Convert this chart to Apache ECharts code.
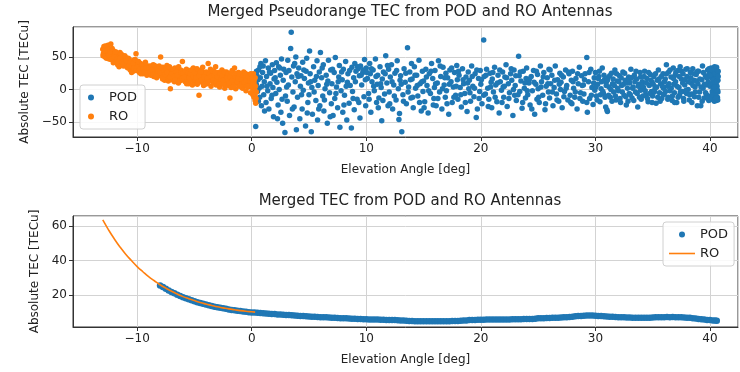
<!DOCTYPE html>
<html>
<head>
<meta charset="utf-8">
<script src="https://cdn.jsdelivr.net/npm/echarts@6/dist/echarts.min.js"></script>
<style>
  html, body { margin: 0; padding: 0; background: #fff; }
  #chart { width: 740px; height: 372px; }
</style>
</head>
<body>
<div id="chart"></div>
<script>
// top panel: pseudorange TEC, [elevation deg, TECu]
var roPseudo = [
  [-13.0,62],[-12.95,55],[-12.9,66],[-12.85,58],[-12.8,50],[-12.75,64],[-12.7,60],[-12.6,53],[-12.55,68],[-12.5,57],[-12.45,47],[-12.4,62],[-12.3,70],[-12.25,55],[-12.2,49],[-12.1,60],[-12.05,52],[-12.0,45],
  [-11.95,56],[-11.9,48],[-11.8,42],[-11.75,53],[-11.7,38],[-11.6,50],[-11.55,44],[-11.5,57],[-11.4,40],[-11.35,47],[-11.3,52],[-11.2,36],[-11.15,45],[-11.1,41],[-11.0,49],
  [-10.95,38],[-10.9,44],[-10.8,33],[-10.75,40],[-10.7,47],[-10.6,30],[-10.55,37],[-10.5,42],[-10.4,35],[-10.35,28],[-10.3,45],[-10.2,39],[-10.15,32],[-10.1,55],[-10.05,36],[-10.0,41],
  [-9.95,30],[-9.9,37],[-9.8,26],[-9.75,33],[-9.7,40],[-9.6,29],[-9.55,35],[-9.5,24],[-9.4,31],[-9.35,38],[-9.3,27],[-9.2,34],[-9.15,22],[-9.1,30],[-9.0,36],
  [-8.95,28],[-8.9,34],[-8.8,22],[-8.75,30],[-8.7,25],[-8.6,38],[-8.55,20],[-8.5,31],[-8.4,27],[-8.35,35],[-8.3,18],[-8.2,29],[-8.15,24],[-8.1,33],[-8.0,21],[-7.95,50],
  [-7.9,28],[-7.8,19],[-7.75,34],[-7.7,25],[-7.6,14],[-7.55,30],[-7.5,22],[-7.4,37],[-7.35,17],[-7.3,27],[-7.2,20],[-7.15,32],[-7.1,1],[-7.05,24],[-7.0,15],
  [-6.95,29],[-6.9,18],[-6.8,26],[-6.75,12],[-6.7,33],[-6.6,21],[-6.55,16],[-6.5,28],[-6.4,10],[-6.35,24],[-6.3,19],[-6.2,30],[-6.15,14],[-6.1,25],[-6.05,43],[-6.0,20],
  [-5.95,17],[-5.9,27],[-5.8,12],[-5.75,22],[-5.7,31],[-5.6,15],[-5.55,24],[-5.5,9],[-5.4,20],[-5.35,28],[-5.3,14],[-5.2,23],[-5.15,18],[-5.1,33],[-5.0,11],
  [-4.95,21],[-4.9,14],[-4.8,27],[-4.75,8],[-4.7,19],[-4.6,-9],[-4.55,24],[-4.5,16],[-4.4,30],[-4.35,11],[-4.3,22],[-4.2,6],[-4.15,26],[-4.1,17],[-4.0,13],
  [-3.95,20],[-3.9,9],[-3.8,40],[-3.75,25],[-3.7,14],[-3.6,31],[-3.55,5],[-3.5,18],[-3.4,23],[-3.35,10],[-3.3,28],[-3.2,16],[-3.15,35],[-3.1,7],[-3.0,21],
  [-2.95,13],[-2.9,26],[-2.8,4],[-2.75,19],[-2.7,11],[-2.6,30],[-2.55,15],[-2.5,8],[-2.4,22],[-2.35,2],[-2.3,17],[-2.2,27],[-2.15,10],[-1.9,-13],[-2.05,20],[-2.0,6],
  [-1.95,16],[-1.9,24],[-1.8,3],[-1.75,12],[-1.7,29],[-1.6,8],[-1.55,19],[-1.5,33],[-1.4,1],[-1.35,14],[-1.3,22],[-1.2,9],[-1.15,26],[-1.1,5],[-1.0,17],
  [-0.95,11],[-0.9,21],[-0.8,2],[-0.75,15],[-0.7,27],[-0.6,7],[-0.55,18],[-0.5,-2],[-0.4,12],[-0.35,23],[-0.3,4],[-0.2,16],[-0.15,9],[-0.1,-5],[-0.05,20],
  [0.0,6],[0.05,13],[0.1,-8],[0.15,24],[0.2,-12],[0.25,1],[0.3,-17],[0.35,-21],[0.4,-4],[0.3,18],[0.2,10],
  [-12.98,52],[-12.88,60],[-12.78,67],[-12.68,48],[-12.58,61],[-12.48,52],[-12.38,58],[-12.28,46],[-12.18,63],[-12.08,41],
  [-11.98,50],[-11.88,58],[-11.78,46],[-11.68,43],[-11.58,35],[-11.48,48],[-11.38,54],[-11.28,42],[-11.18,39],[-11.08,52],
  [-10.98,44],[-10.88,34],[-10.78,48],[-10.68,37],[-10.58,42],[-10.48,26],[-10.38,40],[-10.28,33],[-10.18,46],[-10.08,29],
  [-9.98,35],[-9.88,43],[-9.78,31],[-9.68,24],[-9.58,38],[-9.48,32],[-9.38,27],[-9.28,42],[-9.18,33],[-9.08,25],
  [-8.98,33],[-8.88,26],[-8.78,36],[-8.68,30],[-8.58,23],[-8.48,37],[-8.38,21],[-8.28,32],[-8.18,28],[-8.08,36],
  [-7.98,26],[-7.88,33],[-7.78,16],[-7.68,29],[-7.58,23],[-7.48,31],[-7.38,26],[-7.28,13],[-7.18,35],[-7.08,19],
  [-6.98,24],[-6.88,31],[-6.78,20],[-6.68,15],[-6.58,27],[-6.48,22],[-6.38,35],[-6.28,13],[-6.18,26],[-6.08,17],
  [-5.98,25],[-5.88,19],[-5.78,29],[-5.68,9],[-5.58,26],[-5.48,18],[-5.38,24],[-5.28,30],[-5.18,7],[-5.08,20],
  [-4.98,26],[-4.88,18],[-4.78,32],[-4.68,12],[-4.58,21],[-4.48,27],[-4.38,15],[-4.28,34],[-4.18,19],[-4.08,8],
  [-3.98,27],[-3.88,17],[-3.78,12],[-3.68,24],[-3.58,20],[-3.48,29],[-3.38,14],[-3.28,22],[-3.18,26],[-3.08,12],
  [-2.98,19],[-2.88,9],[-2.78,24],[-2.68,16],[-2.58,21],[-2.48,14],[-2.38,27],[-2.28,7],[-2.18,18],[-2.08,24],
  [-1.98,10],[-1.88,19],[-1.78,26],[-1.68,14],[-1.58,4],[-1.48,20],[-1.38,25],[-1.28,12],[-1.18,17],[-1.08,23],
  [-0.98,6],[-0.88,16],[-0.78,22],[-0.68,11],[-0.58,25],[-0.48,14],[-0.38,5],[-0.28,19],[-0.18,13],[-0.08,24],
  [0.02,17],[0.08,2],[0.12,10],[0.18,-3],[0.22,15],[0.28,-8],[0.32,5],[0.38,-14]
];

var podPseudo = [
  [0.35,-57],[0.4,8],[0.45,22],[0.5,-3],[0.55,15],[0.6,30],[0.65,2],[0.7,-12],[0.75,18],[0.8,40],[0.85,-25],[0.9,5],[0.95,26],
  [1.0,36],[1.05,-8],[1.1,12],[1.2,44],[1.25,-20],[1.3,20],[1.4,-2],[1.45,33],[1.5,-30],[1.6,9],[1.65,25],[1.7,-14],[1.8,38],[1.85,3],[1.9,-42],[1.95,16],
  [2.0,29],[2.1,-6],[2.15,41],[2.2,11],[2.3,-24],[2.35,35],[2.4,0],[2.5,22],[2.55,-35],[2.6,47],[2.7,-52],[2.75,14],[2.8,31],[2.9,-66],[2.95,-10],
  [3.0,26],[3.1,-18],[3.15,45],[3.2,7],[3.3,-40],[3.4,63],[3.45,88],[3.5,19],[3.6,-4],[3.65,36],[3.7,-27],[3.8,12],[3.85,50],[3.9,-62],[3.95,24],
  [4.0,-12],[4.1,33],[4.2,-45],[4.25,5],[4.3,21],[4.4,-30],[4.45,42],[4.5,-1],[4.6,17],[4.7,-56],[4.75,28],[4.8,48],[4.9,-20],[4.95,10],
  [5.0,-8],[5.05,59],[5.1,24],[5.2,-65],[5.25,3],[5.3,-38],[5.4,35],[5.5,14],[5.6,-17],[5.7,44],[5.75,-47],[5.8,6],[5.9,27],[5.95,-25],
  [6.0,57],[6.1,18],[6.2,-10],[6.25,38],[6.3,-33],[6.4,1],[6.5,22],[6.6,-52],[6.65,13],[6.7,45],[6.8,-5],[6.9,30],[6.95,-22],
  [7.0,9],[7.1,-40],[7.2,26],[7.25,-14],[7.3,49],[7.4,4],[7.5,-28],[7.6,19],[7.65,37],[7.7,-58],[7.8,-2],[7.9,15],[7.95,-35],
  [8.0,31],[8.1,-9],[8.2,43],[8.3,-47],[8.35,11],[8.4,24],[8.5,-21],[8.6,6],[8.7,-59],[8.75,34],[8.8,-3],[8.9,18],[8.95,-31],
  [9.0,40],[9.1,28],[9.2,-15],[9.3,32],[9.4,21],[9.45,-44],[9.5,36],[9.6,7],[9.7,26],[9.8,-11],[9.85,46],[9.9,29],[9.95,-25],
  [10.0,33],[10.1,17],[10.2,-6],[10.3,40],[10.35,24],[10.4,-35],[10.5,12],[10.6,30],[10.7,-2],[10.8,47],[10.9,-20],[10.95,8],
  [11.0,22],[11.1,-13],[11.2,35],[11.3,3],[11.35,-48],[11.4,16],[11.5,27],[11.6,-7],[11.7,52],[11.8,10],[11.9,-25],[11.95,31],
  [12.0,-4],[12.1,19],[12.2,38],[12.3,-30],[12.4,7],[12.5,25],[12.6,-16],[12.7,44],[12.8,1],[12.9,-37],[12.95,14],
  [13.0,21],[13.1,-65],[13.2,-8],[13.3,32],[13.4,11],[13.5,-22],[13.6,64],[13.7,4],[13.8,27],[13.9,-13],[13.95,40],
  [14.0,16],[14.1,-28],[14.2,35],[14.3,2],[14.4,22],[14.5,-10],[14.6,45],[14.7,9],[14.8,-33],[14.9,28],[14.95,-3],
  [15.0,13],[15.1,-19],[15.2,31],[15.3,6],[15.4,-36],[15.5,24],[15.6,-6],[15.7,40],[15.8,17],[15.9,-14],[15.95,3],
  [16.0,29],[16.1,-25],[16.2,10],[16.3,44],[16.4,-4],[16.5,20],[16.6,-30],[16.7,34],[16.8,7],[16.9,-12],[16.95,25],
  [17.0,-2],[17.1,18],[17.2,-38],[17.3,30],[17.4,12],[17.5,-20],[17.6,4],[17.7,26],[17.8,-9],[17.9,37],[17.95,15],
  [18.0,-15],[18.1,22],[18.2,3],[18.3,-27],[18.4,32],[18.5,9],[18.6,-6],[18.7,19],[18.8,-34],[18.9,27],[18.95,1],
  [19.0,14],[19.1,-18],[19.2,36],[19.3,5],[19.4,-11],[19.5,24],[19.6,-43],[19.7,-30],[19.8,17],[19.9,-3],[19.95,29],
  [20.0,8],[20.1,-22],[20.25,76],[20.3,20],[20.4,-7],[20.5,31],[20.6,2],[20.7,-15],[20.8,25],[20.9,11],[20.95,-28],
  [21.0,16],[21.1,-4],[21.2,34],[21.3,7],[21.4,-19],[21.5,22],[21.6,-36],[21.7,12],[21.8,-1],[21.9,27],[21.95,4],
  [22.0,-12],[22.1,19],[22.2,38],[22.3,-26],[22.4,9],[22.5,-5],[22.6,24],[22.7,14],[22.8,-40],[22.9,30],[22.95,-9],
  [23.0,6],[23.1,-17],[23.3,51],[23.35,21],[23.4,-3],[23.5,13],[23.6,-29],[23.7,28],[23.8,2],[23.9,-13],[23.95,17],
  [24.0,33],[24.1,-8],[24.2,10],[24.3,-24],[24.4,20],[24.5,-2],[24.6,29],[24.7,-38],[24.8,8],[24.9,-15],[24.95,23],
  [25.0,1],[25.1,-20],[25.2,36],[25.3,12],[25.4,-9],[25.5,26],[25.6,-31],[25.7,5],[25.8,18],[25.9,-4],[25.95,31],
  [26.0,-13],[26.1,9],[26.2,22],[26.3,-25],[26.4,3],[26.5,36],[26.6,-7],[26.7,15],[26.8,-18],[26.9,25],[26.95,0],
  [27.0,11],[27.1,-28],[27.2,19],[27.3,-3],[27.4,30],[27.5,6],[27.6,-16],[27.7,24],[27.8,-9],[27.9,14],[27.95,-22],
  [28.0,28],[28.1,2],[28.2,-12],[28.3,17],[28.4,-30],[28.5,9],[28.6,34],[28.7,-5],[28.8,21],[28.9,-18],[28.95,7],
  [29.0,-7],[29.1,24],[29.25,49],[29.3,-35],[29.4,12],[29.5,-14],[29.6,31],[29.7,3],[29.8,-23],[29.9,18],[29.95,-1],
  [30.0,26],[30.1,-10],[30.2,8],[30.3,20],[30.4,-19],[30.5,1],[30.6,33],[30.7,-6],[30.8,15],[30.9,-27],[30.95,11],
  [31.0,-31],[31.05,-34],[31.1,18],[31.2,4],[31.3,-12],[31.4,25],[31.5,9],[31.6,-4],[31.7,30],[31.8,-16],[31.9,13],
  [32.0,-2],[32.1,21],[32.2,-20],[32.3,6],[32.4,27],[32.5,-9],[32.6,14],[32.7,-24],[32.8,2],[32.9,19],[32.95,-6],
  [33.0,10],[33.1,31],[33.2,-13],[33.3,4],[33.4,22],[33.5,-4],[33.6,16],[33.7,-27],[33.8,8],[33.9,26],[33.95,-1],
  [34.0,-15],[34.1,12],[34.2,3],[34.3,28],[34.4,-8],[34.5,17],[34.6,-19],[34.7,6],[34.8,23],[34.9,-3],[34.95,11],
  [35.0,-10],[35.1,20],[35.2,1],[35.3,-21],[35.4,14],[35.5,30],[35.6,-5],[35.7,9],[35.8,-14],[35.9,24],[35.95,2],
  [36.0,-7],[36.1,16],[36.2,38],[36.3,5],[36.35,-12],[36.4,27],[36.5,-2],[36.6,19],[36.7,-17],[36.8,33],[36.85,8],[36.9,-5],[36.95,22],
  [37.0,12],[37.1,-20],[37.2,29],[37.3,3],[37.35,-9],[37.4,35],[37.5,16],[37.6,-3],[37.65,24],[37.7,-14],[37.8,7],[37.9,31],[37.95,-6],
  [38.0,20],[38.1,0],[38.2,-16],[38.3,26],[38.35,10],[38.4,-7],[38.5,32],[38.6,14],[38.65,-11],[38.7,4],[38.8,23],[38.9,-25],[38.95,9],
  [39.0,28],[39.1,-4],[39.2,-25],[39.3,15],[39.35,36],[39.4,2],[39.5,-13],[39.6,21],[39.65,7],[39.7,-8],[39.8,30],[39.85,12],[39.9,-17],[39.95,25],
  [40.0,5],[40.05,-10],[40.1,33],[40.15,18],[40.2,-3],[40.25,26],[40.3,-14],[40.35,9],[40.4,35],[40.45,-6],[40.5,20],[40.55,0],[40.6,29],[40.65,-12],[40.7,14],[40.7,-4],[40.65,24],[40.55,-17],[40.45,31],[40.35,16],
  [0.42,28],[0.58,-18],[0.72,35],[1.12,-33],[1.33,5],[1.55,27],[1.77,-9],[2.05,18],[2.25,-45],[2.45,33],[2.65,-15],[3.05,4],[3.25,29],[3.55,-30],[3.75,40],
  [4.05,20],[4.35,-8],[4.55,30],[4.85,-36],[5.15,12],[5.45,-4],[5.65,20],[5.85,-30],[6.15,33],[6.35,-16],[6.55,8],[6.85,-42],[7.05,31],[7.35,-6],[7.55,12],
  [7.85,27],[8.05,-24],[8.25,5],[8.55,29],[8.85,-14],[9.05,12],[9.25,35],[9.35,-20],[9.55,22],[9.75,30],[9.92,15],[10.05,26],[10.25,-15],[10.45,32],[10.65,5],
  [10.85,20],[11.05,-28],[11.25,9],[11.45,-17],[11.65,24],[11.85,37],[12.05,-22],[12.25,12],[12.45,-10],[12.65,29],[12.85,-46],
  [13.05,8],[13.25,-18],[13.45,25],[13.65,-4],[13.85,15],[14.05,-12],[14.25,22],[14.45,6],[14.65,-20],[14.85,12],[15.05,-28],[15.25,19],[15.45,-2],[15.65,28],[15.85,-24],
  [16.05,9],[16.25,-14],[16.45,36],[16.65,1],[16.85,18],[17.05,-22],[17.25,8],[17.45,33],[17.65,-12],[17.85,5],[18.05,28],[18.25,-8],[18.45,15],[18.65,-20],[18.85,10],
  [19.05,-5],[19.25,20],[19.45,2],[19.65,30],[19.85,-14],[20.05,15],[20.25,-9],[20.45,22],[20.65,-26],[20.85,4],[21.05,26],[21.25,-12],[21.45,10],[21.65,30],[21.85,-20],
  [22.05,5],[22.25,18],[22.45,-14],[22.65,32],[22.85,0],[23.05,21],[23.25,-8],[23.45,27],[23.65,-20],[23.85,10],[24.05,-2],[24.25,16],[24.45,-30],[24.65,11],[24.85,28],
  [25.05,-12],[25.25,4],[25.45,19],[25.65,-22],[25.85,9],[26.05,30],[26.25,-4],[26.45,14],[26.65,-16],[26.85,8],[27.05,22],[27.25,-11],[27.45,2],[27.65,27],[27.85,-20],
  [28.05,12],[28.25,-4],[28.45,24],[28.65,-14],[28.85,6],[29.05,15],[29.25,-20],[29.45,26],[29.65,-9],[29.85,10],
  [30.05,4],[30.15,-16],[30.25,17],[30.35,28],[30.45,-8],[30.55,12],[30.65,-3],[30.75,22],[30.85,-12],[30.95,6],
  [31.05,14],[31.15,-9],[31.25,21],[31.35,0],[31.45,-18],[31.55,16],[31.65,6],[31.75,-10],[31.85,24],[31.95,2],
  [32.05,12],[32.15,-14],[32.25,18],[32.35,-4],[32.45,8],[32.55,25],[32.65,-11],[32.75,10],[32.85,-18],[32.95,15],
  [33.05,-8],[33.15,18],[33.25,2],[33.35,-17],[33.45,12],[33.55,28],[33.65,-6],[33.75,5],[33.85,-12],[33.95,19],
  [34.05,6],[34.15,-10],[34.25,20],[34.35,-2],[34.45,10],[34.55,-14],[34.65,26],[34.75,-6],[34.85,14],[34.95,-20],
  [35.05,8],[35.15,-4],[35.25,24],[35.35,4],[35.45,-12],[35.55,16],[35.65,-18],[35.75,20],[35.85,5],[35.95,-8],
  [36.02,12],[36.12,-3],[36.22,24],[36.32,-15],[36.42,9],[36.52,30],[36.62,2],[36.72,-10],[36.82,17],[36.92,-20],
  [37.02,26],[37.12,5],[37.22,-12],[37.32,20],[37.42,-4],[37.52,28],[37.62,10],[37.72,-18],[37.82,15],[37.92,-1],
  [38.02,32],[38.12,12],[38.22,-8],[38.32,18],[38.42,-20],[38.52,6],[38.62,24],[38.72,-4],[38.82,13],[38.92,28],
  [39.02,-12],[39.12,16],[39.22,4],[39.32,-18],[39.42,26],[39.52,8],[39.62,-5],[39.72,18],[39.82,-14],[39.92,32],
  [40.02,22],[40.08,-15],[40.12,8],[40.18,30],[40.22,-8],[40.28,14],[40.32,2],[40.38,-18],[40.42,24],[40.48,10],
  [40.52,-10],[40.58,34],[40.62,5],[40.68,-16],[40.72,20],[40.72,28],[40.66,-1],[40.6,12],[40.5,-14],[40.4,4]
];

// bottom panel: merged TEC
var podMerged = [
  [-8,25.5],[-7.75,24.6],[-7.5,23.6],[-7.25,22.7],[-7,21.8],[-6.75,21.0],[-6.5,20.2],[-6.25,19.5],[-6,18.8],[-5.75,18.2],[-5.5,17.6],[-5.25,17.0],
  [-5,16.4],[-4.75,15.9],[-4.5,15.4],[-4.25,14.9],[-4,14.5],[-3.75,14.1],[-3.5,13.7],[-3.25,13.3],[-3,12.9],[-2.75,12.6],[-2.5,12.3],[-2.25,12.0],
  [-2,11.7],[-1.75,11.4],[-1.5,11.2],[-1.25,10.9],[-1,10.7],[-0.75,10.5],[-0.5,10.3],[-0.25,10.1],[0,9.9],
  [0.25,9.9],[0.5,9.7],[0.75,9.6],[1,9.5],[1.25,9.3],[1.5,9.2],[1.75,9.1],[2,9.0],[2.25,8.8],[2.5,8.7],[2.75,8.6],[3,8.5],[3.25,8.4],[3.5,8.3],[3.75,8.1],
  [4,8.0],[4.25,7.9],[4.5,7.8],[4.75,7.7],[5,7.6],[5.25,7.5],[5.5,7.4],[5.75,7.3],[6,7.2],[6.25,7.2],[6.5,7.1],[6.75,7.0],[7,6.9],[7.25,6.8],[7.5,6.7],[7.75,6.6],
  [8,6.6],[8.25,6.5],[8.5,6.4],[8.75,6.3],[9,6.3],[9.25,6.2],[9.5,6.1],[9.75,6.0],[10,6.0],[10.25,5.9],[10.5,5.9],[10.75,5.8],[11,5.8],[11.25,5.7],[11.5,5.7],[11.75,5.6],
  [12,5.6],[12.25,5.5],[12.5,5.5],[12.75,5.4],[13,5.3],[13.25,5.2],[13.5,5.1],[13.75,5.0],[14,5.0],[14.25,4.9],[14.5,4.9],[14.75,4.9],[15,4.8],[15.25,4.8],[15.5,4.8],[15.75,4.8],
  [16,4.9],[16.25,4.8],[16.5,4.8],[16.75,4.9],[17,4.9],[17.25,4.9],[17.5,5.0],[17.75,5.0],[18,5.0],[18.25,5.1],[18.5,5.2],[18.75,5.3],[19,5.5],[19.25,5.6],[19.5,5.6],[19.75,5.7],
  [20,5.7],[20.25,5.7],[20.5,5.8],[20.75,5.8],[21,5.8],[21.25,5.8],[21.5,5.9],[21.75,5.8],[22,5.9],[22.25,5.9],[22.5,5.9],[22.75,6.0],[23,6.0],[23.25,6.0],[23.5,6.0],[23.75,6.1],
  [24,6.1],[24.25,6.2],[24.5,6.2],[24.75,6.3],[25,6.5],[25.25,6.6],[25.5,6.6],[25.75,6.7],[26,6.7],[26.25,6.8],[26.5,6.8],[26.75,6.9],[27,7.0],[27.25,7.1],[27.5,7.2],[27.75,7.3],
  [28,7.5],[28.25,7.7],[28.5,7.8],[28.75,7.9],[29,8.0],[29.25,8.1],[29.5,8.2],[29.75,8.1],[30,8.0],[30.25,7.9],[30.5,7.8],[30.75,7.7],[31,7.6],[31.25,7.5],[31.5,7.4],[31.75,7.3],
  [32,7.2],[32.25,7.2],[32.5,7.1],[32.75,7.0],[33,7.0],[33.25,6.9],[33.5,6.9],[33.75,6.9],[34,6.8],[34.25,6.8],[34.5,6.9],[34.75,6.9],[35,7.0],[35.25,7.1],[35.5,7.1],[35.75,7.2],
  [36,7.2],[36.25,7.3],[36.5,7.1],[36.75,7.3],[37,7.2],[37.25,7.1],[37.5,7.2],[37.75,7.0],[38,6.9],[38.25,6.8],[38.5,6.6],[38.75,6.4],[39,6.2],[39.25,6.0],[39.5,5.8],[39.75,5.6],
  [40,5.5],[40.25,5.3],[40.45,5.2],[40.6,5.1]
];

var roMerged = [
  [-13,63.5],[-12.5,57.8],[-12,52.6],[-11.5,47.9],[-11,43.7],[-10.5,40.0],[-10,36.5],[-9.5,33.5],[-9,30.7],[-8.5,28.3],
  [-8,26.0],[-7.5,24.0],[-7,22.2],[-6.5,20.6],[-6,19.1],[-5.5,17.9],[-5,16.8],[-4.5,15.7],[-4,14.8],[-3.5,14.0],
  [-3,13.2],[-2.5,12.6],[-2,12.0],[-1.5,11.5],[-1,11.0],[-0.5,10.6],[0,10.3],[0.3,10.1]
];

var blue = '#1f77b4';
var orange = '#ff7f0e';
var font = 'DejaVu Sans';

function minus(v) { return String(v).replace('-', '\u2212'); }

function xAxisFor(gridIndex) {
  return {
    type: 'value', gridIndex: gridIndex, min: -15.6, max: 42.45,
    minInterval: 10, maxInterval: 10,
    name: 'Elevation Angle [deg]', nameLocation: 'middle', nameGap: 27,
    nameTextStyle: { fontFamily: font, fontSize: 12, color: '#222' },
    axisLine: { show: true, onZero: false, lineStyle: { color: '#333', width: 1 } },
    axisTick: { show: true, length: 4, lineStyle: { color: '#333' } },
    axisLabel: { fontFamily: font, fontSize: 12, color: '#222', margin: 6, formatter: minus, showMinLabel: false, showMaxLabel: false },
    splitLine: { show: true, lineStyle: { color: '#d3d3d3', width: 1 } }
  };
}

function yAxisFor(gridIndex, min, max, step, gap) {
  return {
    type: 'value', gridIndex: gridIndex, min: min, max: max,
    minInterval: step, maxInterval: step,
    name: 'Absolute TEC [TECu]', nameLocation: 'middle', nameGap: gap, nameRotate: 90,
    nameTextStyle: { fontFamily: font, fontSize: 12, color: '#222' },
    axisLine: { show: true, onZero: false, lineStyle: { color: '#333', width: 1 } },
    axisTick: { show: true, length: 4, lineStyle: { color: '#333' } },
    axisLabel: { fontFamily: font, fontSize: 12, color: '#222', margin: 6, formatter: minus, showMinLabel: false, showMaxLabel: false },
    splitLine: { show: true, lineStyle: { color: '#d3d3d3', width: 1 } }
  };
}

var legendBase = {
  orient: 'vertical', itemWidth: 26, itemHeight: 6, itemGap: 6,
  padding: [6, 8], backgroundColor: 'rgba(255,255,255,0.85)',
  borderColor: '#d0d0d0', borderWidth: 1, borderRadius: 3,
  textStyle: { fontFamily: font, fontSize: 13, color: '#222' },
  formatter: function (name) { return name.split(' ')[0]; },
  selectedMode: false
};

var chart = echarts.init(document.getElementById('chart'));
chart.setOption({
  animation: false,
  backgroundColor: '#fff',
  title: [
    { text: 'Merged Pseudorange TEC from POD and RO Antennas', left: 405, top: 0, textAlign: 'center',
      textStyle: { fontFamily: font, fontSize: 15, fontWeight: 'normal', color: '#222' } },
    { text: 'Merged TEC from POD and RO Antennas', left: 405, top: 189, textAlign: 'center',
      textStyle: { fontFamily: font, fontSize: 15, fontWeight: 'normal', color: '#222' } }
  ],
  legend: [
    Object.assign({}, legendBase, { left: 80, top: 85, data: [{ name: 'POD', icon: 'circle' }, { name: 'RO', icon: 'circle' }] }),
    Object.assign({}, legendBase, { left: 663, top: 222, padding: [6, 6], data: [
      { name: 'POD merged', icon: 'circle' },
      { name: 'RO merged', icon: 'path://M0,0 L26,0 L26,1.6 L0,1.6 Z' }
    ] })
  ],
  grid: [
    { left: 73, right: 2, top: 27, height: 110, show: true, borderColor: '#333', borderWidth: 1, backgroundColor: 'transparent' },
    { left: 73, right: 2, top: 216, height: 111, show: true, borderColor: '#333', borderWidth: 1, backgroundColor: 'transparent' }
  ],
  xAxis: [xAxisFor(0), xAxisFor(1)],
  yAxis: [yAxisFor(0, -73, 96, 50, 38), yAxisFor(1, 1.5, 65.8, 20, 28)],
  series: [
    { name: 'POD', type: 'scatter', xAxisIndex: 0, yAxisIndex: 0, data: podPseudo,
      symbolSize: 5.5, itemStyle: { color: blue, opacity: 1 } },
    { name: 'RO', type: 'scatter', xAxisIndex: 0, yAxisIndex: 0, data: roPseudo,
      symbolSize: 5.5, itemStyle: { color: orange, opacity: 1 } },
    { name: 'POD merged', type: 'scatter', xAxisIndex: 1, yAxisIndex: 1, data: podMerged,
      symbolSize: 6.5, itemStyle: { color: blue, opacity: 1 } },
    { name: 'RO merged', type: 'line', xAxisIndex: 1, yAxisIndex: 1, data: roMerged,
      symbol: 'none', smooth: true, lineStyle: { color: orange, width: 1.6 }, itemStyle: { color: orange } }
  ]
});
</script>
</body>
</html>
